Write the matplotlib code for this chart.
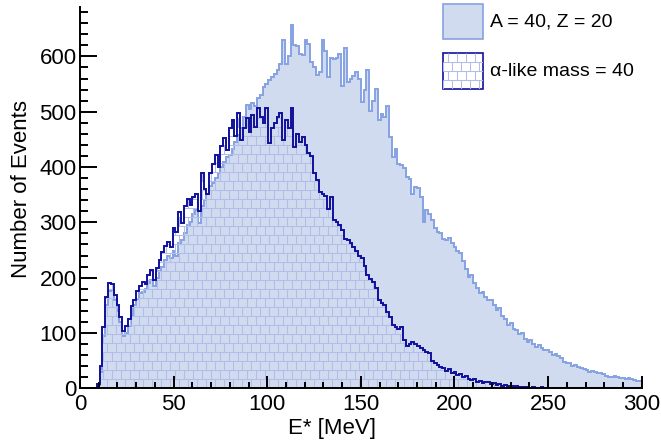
import numpy as np
import matplotlib
matplotlib.use("Agg")
import matplotlib.pyplot as plt
from matplotlib.collections import LineCollection
from matplotlib.patches import Rectangle
from matplotlib.transforms import IdentityTransform

plt.rcParams['font.family'] = ['Liberation Sans', 'DejaVu Sans']

# 200 bins of 1.5 MeV between 0 and 300 MeV
bin_edges = np.linspace(0, 300, 201)

# A = 40, Z = 20
counts_a40 = [
    0, 0, 0, 0, 0, 0, 6, 30, 95, 150,
    176, 178, 160, 140, 120, 95, 100, 112, 130, 150,
    162, 172, 175, 180, 190, 196, 185, 200, 212, 220,
    232, 240, 236, 248, 240, 262, 268, 280, 296, 300,
    316, 322, 298, 330, 340, 352, 365, 372, 380, 389,
    400, 410, 418, 421, 432, 445, 458, 470, 490, 512,
    505, 515, 510, 524, 530, 545, 550, 557, 562, 569,
    575, 587, 629, 587, 600, 656, 620, 618, 605, 602,
    629, 623, 590, 580, 566, 571, 629, 610, 563, 597,
    596, 598, 605, 547, 616, 553, 560, 565, 571, 560,
    517, 540, 575, 502, 520, 542, 485, 495, 490, 511,
    455, 418, 433, 405, 403, 399, 382, 378, 352, 364,
    363, 345, 300, 322, 316, 305, 290, 282, 280, 270,
    268, 272, 262, 255, 248, 244, 230, 215, 201, 205,
    190, 182, 172, 175, 165, 159, 160, 150, 141, 145,
    130, 125, 114, 118, 108, 105, 99, 100, 90, 84,
    88, 80, 75, 78, 72, 69, 70, 65, 60, 62,
    58, 55, 48, 46, 45, 40, 42, 39, 36, 34,
    33, 30, 31, 29, 27, 28, 25, 22, 20, 21,
    22, 21, 18, 19, 17, 18, 16, 15, 14, 14,
]

# alpha-like nuclei, total mass 40
counts_alpha = [
    0, 0, 0, 0, 0, 0, 8, 40, 110, 165,
    190, 188, 168, 150, 128, 104, 112, 125, 148, 160,
    176, 185, 192, 188, 205, 213, 196, 218, 232, 246,
    258, 264, 255, 289, 282, 318, 298, 330, 343, 331,
    345, 352, 320, 389, 360, 352, 389, 405, 421, 400,
    438, 452, 430, 470, 485, 457, 497, 448, 470, 488,
    463, 494, 473, 506, 490, 480, 506, 443, 470, 479,
    490, 497, 448, 485, 470, 506, 436, 460, 445, 454,
    440, 425, 420, 389, 376, 354, 352, 348, 325, 345,
    304, 300, 296, 286, 270, 268, 262, 255, 248, 240,
    236, 222, 205, 198, 192, 182, 160, 155, 150, 138,
    128, 115, 110, 108, 110, 88, 76, 80, 84, 80,
    76, 72, 70, 66, 64, 50, 45, 42, 38, 36,
    32, 34, 28, 30, 24, 26, 20, 22, 17, 15,
    16, 12, 13, 10, 12, 11, 7, 9, 6, 7,
    5, 6, 4, 5, 3, 4, 2, 3, 2, 2,
    1, 2, 1, 1, 2, 1, 0, 1, 1, 0,
    1, 0, 1, 0, 0, 1, 0, 0, 1, 0,
    0, 0, 1, 0, 0, 0, 0, 1, 0, 0,
    0, 0, 0, 0, 1, 0, 0, 0, 0, 0,
]

legend_labels = ['A = 40, Z = 20', 'α-like mass = 40']

FILL_A40 = '#d1dbf0'
LINE_A40 = '#86a2e2'
LINE_ALPHA = '#10109c'
BRICK = '#b3bdea'

W, H = 661, 444


def brick_lines(x0, y0, x1, y1, bw=9.0, bh=9.0):
    """brick pattern segments in pixel coordinates"""
    segs = []
    row = 0
    y = y0
    while y < y1:
        segs.append([(x0, y), (x1, y)])
        off = (bw / 2.0) * (row % 2)
        x = x0 - bw + off
        while x < x1:
            segs.append([(x, y), (x, y + bh)])
            x += bw
        y += bh
        row += 1
    return segs


fig = plt.figure(figsize=(W / 100, H / 100), dpi=100)
ax = fig.add_axes([80 / W, 1 - 388.3 / H, 561.7 / W, 381 / H])

a40 = np.array(counts_a40, dtype=float)
alpha = np.array(counts_alpha, dtype=float)

ax.stairs(a40, bin_edges, fill=True, color=FILL_A40, zorder=1)
ax.stairs(a40, bin_edges, baseline=None, color=LINE_A40, lw=1.4, zorder=1.1)

# region of the alpha-like histogram, used only as a clip path
alpha_area = ax.stairs(alpha, bin_edges, fill=True, facecolor='none',
                       edgecolor='none', zorder=1.2)
bricks = LineCollection(brick_lines(80, 55.7, 642, 440), colors=BRICK,
                        linewidths=0.75, transform=IdentityTransform(), zorder=1.2)
bricks.set_clip_path(alpha_area)
ax.add_collection(bricks, autolim=False)

ax.stairs(alpha, bin_edges, baseline=None, color=LINE_ALPHA, lw=1.4, zorder=1.3)

ax.set_xlim(0, 300)
ax.set_ylim(0, 1.05 * a40.max())

for side in ['top', 'right']:
    ax.spines[side].set_visible(False)
for side in ['left', 'bottom']:
    ax.spines[side].set_linewidth(1.4)

ax.set_xticks(np.arange(0, 301, 50))
ax.set_xticks(np.arange(0, 301, 10), minor=True)
ax.set_yticks(np.arange(0, 601, 100))
ax.set_yticks(np.arange(0, 681, 20), minor=True)
ax.tick_params(axis='both', which='both', direction='in', width=1.4,
               labelsize=16, colors='black')
ax.tick_params(axis='x', which='major', length=9, pad=4)
ax.tick_params(axis='x', which='minor', length=4.5)
ax.tick_params(axis='y', which='major', length=12.5, pad=2.5)
ax.tick_params(axis='y', which='minor', length=6)

fig.text(22 / W, 1 - 189 / H, 'Number of Events', rotation=90,
         ha='center', va='center', fontsize=16)
fig.text(332 / W, 1 - 428 / H, 'E* [MeV]', ha='center', va='center', fontsize=16)

# legend boxes
box1 = Rectangle((443, H - 39), 40, 35, transform=IdentityTransform(),
                 facecolor=FILL_A40, edgecolor=LINE_A40, lw=1.2)
fig.add_artist(box1)
box2 = Rectangle((443, H - 89), 40, 36, transform=IdentityTransform(),
                 facecolor='white', edgecolor=LINE_ALPHA, lw=1.2)
fig.add_artist(box2)
leg_bricks = LineCollection(brick_lines(443, H - 89, 483, H - 53), colors=BRICK,
                            linewidths=0.75, transform=IdentityTransform())
leg_bricks.set_clip_path(box2)
fig.add_artist(leg_bricks)

fig.text(490 / W, 1 - 22 / H, legend_labels[0], ha='left', va='center', fontsize=14)
fig.text(490 / W, 1 - 71 / H, legend_labels[1], ha='left', va='center', fontsize=14)

fig.savefig('out.png', dpi=100)
